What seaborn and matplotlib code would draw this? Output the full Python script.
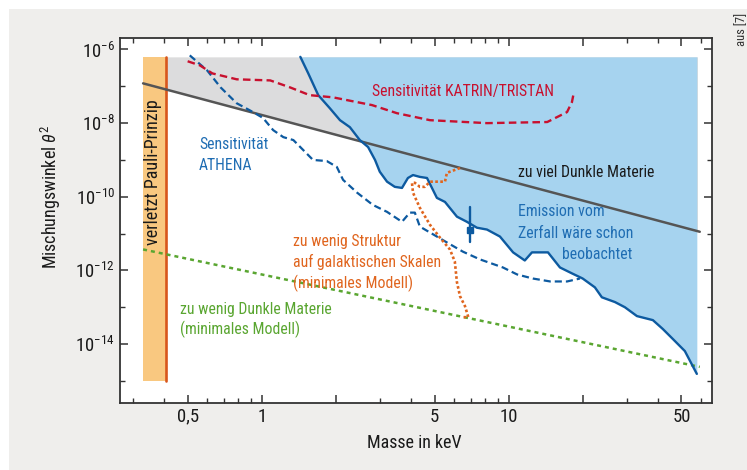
import numpy as np
import matplotlib
matplotlib.use("Agg")
import matplotlib.pyplot as plt
import matplotlib.ticker as mticker
from matplotlib import font_manager
from matplotlib.patches import Rectangle
import seaborn as sns

# masses in keV, mixing angle given as log10(theta^2)
athena_mass = [1.43, 1.54, 1.69, 1.88, 2.07, 2.27, 2.49, 2.69, 2.87, 3.00,
               3.21, 3.45, 3.69, 3.90, 4.09, 4.36, 4.66, 5.11, 5.51, 6.16,
               6.76, 7.42, 8.15, 9.20, 10.4, 11.6, 12.4, 14.4, 16.1, 18.0,
               19.9, 22.3, 23.8, 26.9, 29.5, 33.0, 38.3, 42.0, 46.1, 51.6, 57.7]
athena_log = [-6.2, -6.65, -7.24, -7.59, -7.92, -8.11, -8.46, -8.65, -9.0, -9.32,
              -9.59, -9.73, -9.76, -9.49, -9.41, -9.46, -9.49, -10.03, -10.14, -10.54,
              -10.68, -10.84, -10.89, -11.08, -11.51, -11.73, -11.51, -11.51, -11.92, -12.08,
              -12.22, -12.46, -12.73, -12.86, -13.0, -13.24, -13.35, -13.59, -13.86, -14.19, -14.81]

sens_mass = [0.51, 0.60, 0.68, 0.79, 0.92, 1.01, 1.11, 1.22, 1.34, 1.61,
             1.83, 2.01, 2.13, 2.43, 2.81, 3.21, 3.69, 3.97, 4.16, 4.36,
             4.79, 5.61, 6.51, 7.63, 9.46, 10.8, 12.5, 14.7, 17.2, 19.4]
sens_log = [-6.16, -6.57, -7.03, -7.46, -7.70, -7.86, -8.19, -8.38, -8.46, -9.0,
            -9.03, -9.19, -9.54, -9.89, -10.22, -10.41, -10.68, -10.43, -10.43, -10.81,
            -10.97, -11.24, -11.49, -11.70, -11.92, -12.11, -12.22, -12.30, -12.30, -12.22]

katrin_mass = [0.50, 0.56, 0.63, 0.79, 1.08, 1.30, 1.56, 1.94, 2.79, 3.52,
               4.79, 8.15, 14.3, 17.2, 18.0, 18.3]
katrin_log = [-6.32, -6.43, -6.65, -6.81, -6.84, -7.03, -7.24, -7.30, -7.51, -7.73,
              -7.92, -8.0, -7.97, -7.70, -7.43, -7.19]

struct_mass = [6.34, 5.61, 5.51, 4.79, 4.57, 4.36, 4.16, 4.05, 4.09, 4.36,
               4.79, 5.26, 5.77, 6.04, 6.16, 6.34, 6.64, 6.85, 6.5]
struct_log = [-9.22, -9.35, -9.59, -9.59, -9.73, -9.73, -9.62, -9.62, -9.89, -10.30,
              -10.76, -11.11, -11.43, -11.76, -12.32, -12.70, -12.97, -13.27, -13.27]

toomuch_mass = [0.33, 59.3]
toomuch_log = [-6.92, -10.95]
toolittle_mass = [0.33, 59.3]
toolittle_log = [-11.43, -14.62]

pauli_mass = [0.33, 0.41]
pauli_log = [-15.0, -6.2]
region_top_log = -6.2

line_mass = 6.95
line_log = [-10.89, -10.27, -11.24]   # centre, upper, lower

x_ticks = [0.5, 1, 2, 5, 10, 20, 50]
x_ticklabels = ["0,5", "1", "", "5", "10", "", "50"]
x_minor = [0.3, 0.4, 0.6, 0.7, 0.8, 0.9, 3, 4, 6, 7, 8, 9, 30, 40, 60]
y_major_exp = [-14, -12, -10, -8, -6]
y_minor_exp = [-15, -13, -11, -9, -7]

BLUE = "#0d5aa0"
BLUE_TXT = "#1f6db3"
BLUE_FILL = "#a6d3ef"
RED = "#c8102e"
GREY_LINE = "#555555"
GREY_FILL = "#dcdcdd"
GREEN = "#5aa631"
ORANGE = "#e0651e"

installed = {f.name for f in font_manager.fontManager.ttflist}
fams = [f for f in ['Roboto Condensed', 'Liberation Sans Narrow', 'Roboto'] if f in installed]
main_font = fams[0] if fams else 'DejaVu Sans'

sns.set_style("ticks")
plt.rcParams['font.family'] = [main_font, 'DejaVu Sans']
plt.rcParams['mathtext.fontset'] = 'custom'
plt.rcParams['mathtext.rm'] = main_font
plt.rcParams['mathtext.it'] = main_font + ':italic'

fig = plt.figure(figsize=(7.47, 4.70), dpi=100)
fig.patch.set_facecolor("white")
fig.patches.append(Rectangle((9 / 747, 0), 1, 461 / 470, transform=fig.transFigure,
                             facecolor="#efeeec", edgecolor="none", zorder=-10))
ax = fig.add_axes([0.1606, 0.1426, 0.7924, 0.7764])
ax.set_facecolor("white")
ax.set_xscale("log")
ax.set_yscale("log")
ax.set_xlim(0.266, 66.4)
ax.set_ylim(10 ** -15.6, 10 ** -5.69)

e = lambda v: 10.0 ** np.asarray(v)
top = 10.0 ** region_top_log

# shaded regions
grey = ax.fill_between(toomuch_mass, e(toomuch_log), top, color=GREY_FILL, lw=0, zorder=1)
grey.set_clip_path(Rectangle((0.1, 1e-17), athena_mass[-1] - 0.1, 1.0, transform=ax.transData))
ax.fill_between(athena_mass, e(athena_log), top, color=BLUE_FILL, lw=0, zorder=2)
ax.fill_between(pauli_mass, e(pauli_log[0]), e(pauli_log[1]), color="#f9c880", lw=0, zorder=3)
ax.plot([pauli_mass[1]] * 2, e(pauli_log), color="#d8561c", lw=1.9, zorder=4)

# curves
sns.lineplot(x=athena_mass, y=e(athena_log), ax=ax, color=BLUE, lw=1.7,
             sort=False, estimator=None, zorder=6)
sns.lineplot(x=sens_mass, y=e(sens_log), ax=ax, color=BLUE, lw=1.6,
             linestyle=(0, (3.2, 1.8)), sort=False, estimator=None, zorder=6)
sns.lineplot(x=katrin_mass, y=e(katrin_log), ax=ax, color=RED, lw=1.7,
             linestyle=(0, (3.2, 1.8)), sort=False, estimator=None, zorder=6)
sns.lineplot(x=toomuch_mass, y=e(toomuch_log), ax=ax, color=GREY_LINE, lw=1.8,
             sort=False, estimator=None, zorder=5)
sns.lineplot(x=toolittle_mass, y=e(toolittle_log), ax=ax, color=GREEN, lw=1.8,
             linestyle=(0, (1.6, 1.6)), sort=False, estimator=None, zorder=5)
sns.lineplot(x=struct_mass, y=e(struct_log), ax=ax, color=ORANGE, lw=1.9,
             linestyle=(0, (1.0, 0.9)), sort=False, estimator=None, zorder=7)

# 3.5 keV line with error bar
ax.plot([line_mass] * 2, e(line_log[1:]), color=BLUE, lw=1.7, zorder=8)
ax.plot([line_mass], e(line_log[0]), marker="s", ms=5, color=BLUE, zorder=8)

# labels inside the plot
fs = 11.3
ax.text(2.79, e(-7.14), "Sensitivität KATRIN/TRISTAN", color=RED, fontsize=fs, va="center", zorder=9)
ax.text(0.556, e(-8.59), "Sensitivität", color=BLUE_TXT, fontsize=fs, va="center", zorder=9)
ax.text(0.556, e(-9.16), "ATHENA", color=BLUE_TXT, fontsize=fs, va="center", zorder=9)
ax.text(10.9, e(-9.35), "zu viel Dunkle Materie", color="#1a1a1a", fontsize=fs, va="center", zorder=9)
ax.text(10.9, e(-10.41), "Emission vom", color=BLUE_TXT, fontsize=fs, va="center", zorder=9)
ax.text(10.9, e(-11.0), "Zerfall wäre schon", color=BLUE_TXT, fontsize=fs, va="center", zorder=9)
ax.text(31.5, e(-11.57), "beobachtet", color=BLUE_TXT, fontsize=fs, va="center", ha="right", zorder=9)
ax.text(1.335, e(-11.22), "zu wenig Struktur", color=ORANGE, fontsize=fs, va="center", zorder=9)
ax.text(1.335, e(-11.78), "auf galaktischen Skalen", color=ORANGE, fontsize=fs, va="center", zorder=9)
ax.text(1.335, e(-12.35), "(minimales Modell)", color=ORANGE, fontsize=fs, va="center", zorder=9)
ax.text(0.465, e(-13.05), "zu wenig Dunkle Materie", color=GREEN, fontsize=fs, va="center", zorder=9)
ax.text(0.465, e(-13.59), "(minimales Modell)", color=GREEN, fontsize=fs, va="center", zorder=9)
ax.text(0.362, e(-9.32), "verletzt Pauli-Prinzip", color="#1a1a1a", fontsize=13, rotation=90,
        va="center", ha="center", zorder=9)

# axes and ticks
ax.set_xticks(x_ticks)
ax.set_xticklabels(x_ticklabels)
ax.xaxis.set_minor_locator(mticker.FixedLocator(x_minor))
ax.xaxis.set_minor_formatter(mticker.NullFormatter())
ax.set_yticks([10.0 ** k for k in y_major_exp])
ax.set_yticklabels([r"$10^{%d}$" % k for k in y_major_exp])
ax.yaxis.set_minor_locator(mticker.FixedLocator([10.0 ** k for k in y_minor_exp]))
ax.yaxis.set_minor_formatter(mticker.NullFormatter())
ax.tick_params(which="both", direction="in", top=True, right=True, color="#333333",
               labelsize=13.5, labelcolor="#1a1a1a")
ax.tick_params(which="major", length=6, width=1.1)
ax.tick_params(which="minor", length=3.5, width=1.0)
for s in ax.spines.values():
    s.set_color("#333333")
    s.set_linewidth(1.3)

ax.set_xlabel("Masse in keV", fontsize=13, color="#1a1a1a")
ax.set_ylabel(r"Mischungswinkel $\theta^2$", fontsize=13, color="#1a1a1a")
ax.xaxis.set_label_coords(0.498, -0.085)
ax.yaxis.set_label_coords(-0.097, 0.565)

fig.text(742 / 747, 1 - 29 / 470, "aus [7]", rotation=90, fontsize=9, color="#333333",
         ha="center", va="center")

fig.savefig("out.png", dpi=100, facecolor=fig.get_facecolor())
